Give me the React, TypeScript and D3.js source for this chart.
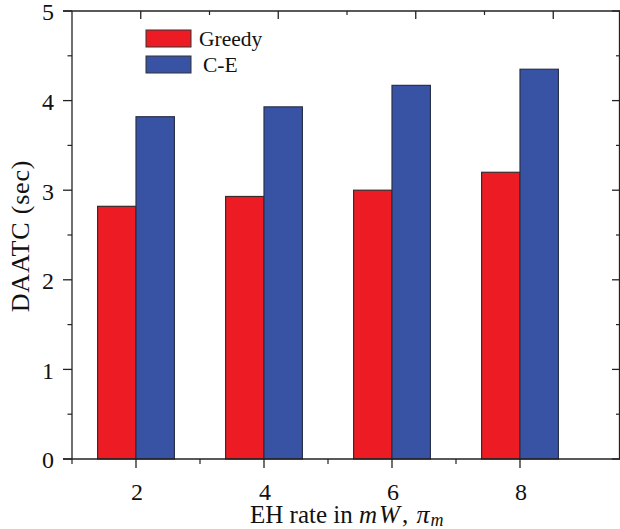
import React from "react";
import * as d3 from "d3";

const categories = [2, 4, 6, 8];
const greedy = [2.82, 2.93, 3.0, 3.2];
const ce = [3.82, 3.93, 4.17, 4.35];
const yTicks = [0, 1, 2, 3, 4, 5];
const yMinor = [0.5, 1.5, 2.5, 3.5, 4.5];
const xMajor = [2, 4, 6, 8];
const xMinor = [1, 3, 5, 7];
const seriesNames = ["Greedy", "C-E"];
const colors = ["#ED1C24", "#3953A4"];

export default function App() {
  const W = 620, H = 529;
  const left = 72, right = 620, top = 11, bottom = 459;
  const y = d3.scaleLinear().domain([0, 5]).range([bottom, top]);
  const xB = d3.scaleLinear().domain([1, 9]).range([left, left + 8 * 64]);
  const xT = d3.scaleLinear().domain([1, 9]).range([left, 622]);
  const barW = 0.6;
  const ax = "#222";
  const font = "'Liberation Serif', 'Times New Roman', serif";
  return (
    <svg width={W} height={H} style={{ position: "absolute", left: 0, top: 0, background: "#fff" }}>
      {/* bars */}
      {categories.map((c, i) => (
        <g key={c}>
          <rect x={xB(c - barW)} y={y(greedy[i])} width={xB(c) - xB(c - barW)} height={y(0) - y(greedy[i])}
            fill={colors[0]} stroke="#3a2a2a" strokeWidth={1.2} />
          <rect x={xB(c)} y={y(ce[i])} width={xB(c + barW) - xB(c)} height={y(0) - y(ce[i])}
            fill={colors[1]} stroke="#2a2f4a" strokeWidth={1.2} />
        </g>
      ))}
      {/* frame */}
      <line x1={63} x2={right} y1={bottom} y2={bottom} stroke={ax} strokeWidth={1.3} />
      <line x1={63} x2={right} y1={top} y2={top} stroke={ax} strokeWidth={1.3} />
      <line x1={left} x2={left} y1={top} y2={bottom} stroke={ax} strokeWidth={1.3} />
      <line x1={619.5} x2={619.5} y1={top} y2={bottom} stroke={ax} strokeWidth={1.3} />
      {/* y ticks */}
      {yTicks.map((t) => (
        <g key={"y" + t}>
          <line x1={63} x2={left} y1={y(t)} y2={y(t)} stroke={ax} strokeWidth={1.3} />
          <line x1={612} x2={620} y1={y(t)} y2={y(t)} stroke={ax} strokeWidth={1.3} />
          <text x={48} y={y(t) + 1} dy="0.35em" textAnchor="middle" fontFamily={font} fontSize={24} fill="#111">{t}</text>
        </g>
      ))}
      {yMinor.map((t) => (
        <g key={"ym" + t}>
          <line x1={67.5} x2={left} y1={y(t)} y2={y(t)} stroke={ax} strokeWidth={1.2} />
          <line x1={616} x2={620} y1={y(t)} y2={y(t)} stroke={ax} strokeWidth={1.2} />
        </g>
      ))}
      {/* x ticks bottom */}
      {xMajor.map((t) => (
        <g key={"x" + t}>
          <line x1={xB(t)} x2={xB(t)} y1={bottom} y2={bottom + 9} stroke={ax} strokeWidth={1.3} />
          <text x={xB(t) + 1} y={492} dy="0.35em" textAnchor="middle" fontFamily={font} fontSize={24} fill="#111">{t}</text>
        </g>
      ))}
      {xMinor.map((t) => (
        <line key={"xm" + t} x1={xB(t)} x2={xB(t)} y1={bottom} y2={bottom + 5} stroke={ax} strokeWidth={1.2} />
      ))}
      {/* x ticks top */}
      {xMajor.map((t) => (
        <line key={"xt" + t} x1={xT(t)} x2={xT(t)} y1={top} y2={top + 8} stroke={ax} strokeWidth={1.3} />
      ))}
      {xMinor.filter((t) => t > 1).map((t) => (
        <line key={"xtm" + t} x1={xT(t)} x2={xT(t)} y1={top} y2={top + 4} stroke={ax} strokeWidth={1.2} />
      ))}
      {/* axis titles */}
      <text transform={`translate(20,236) rotate(-90)`} textAnchor="middle" fontFamily={font} fontSize={26} fill="#111" dy="0.35em" letterSpacing={0.8}>DAATC (sec)</text>
      <text x={250} y={523} textAnchor="start" fontFamily={font} fontSize={25} fill="#111">
        EH rate in <tspan fontStyle="italic" letterSpacing={2}>mW</tspan>, <tspan fontStyle="italic" fontSize={26} dx={2}>π</tspan>
        <tspan fontStyle="italic" fontSize={18} dy={3} dx={1}>m</tspan>
      </text>
      {/* legend */}
      {seriesNames.map((n, i) => (
        <g key={n}>
          <rect x={146} y={30 + i * 26} width={45} height={17} fill={colors[i]} stroke="#333" strokeWidth={1} />
          <text x={199 + i * 4} y={38.5 + i * 26} dy="0.35em" fontFamily={font} fontSize={21.5} fill="#111">{n}</text>
        </g>
      ))}
    </svg>
  );
}
